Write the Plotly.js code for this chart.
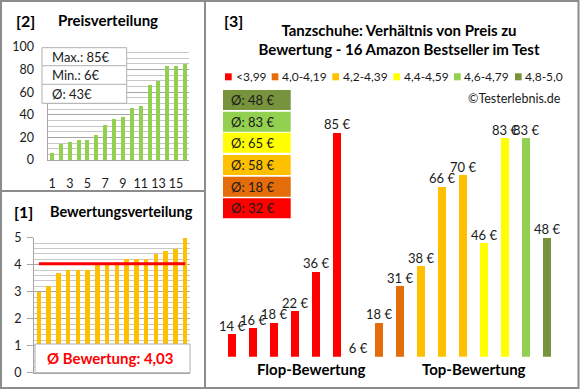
<!DOCTYPE html>
<html><head><meta charset="utf-8">
<script src="https://cdn.plot.ly/plotly-3.0.1.min.js"></script>
<style>html,body{margin:0;padding:0;background:#fff}#chart{width:580px;height:390px}</style>
</head><body><div id="chart"></div>
<script>
// ---------- DATA ----------
// Panel [2] Preisverteilung (prices sorted ascending)
const priceRank = [1,2,3,4,5,6,7,8,9,10,11,12,13,14,15,16];
const pricesSorted = [6,14,16,18,18,22,31,36,38,46,48,66,70,83,83,85];
const priceTickVals = [1,3,5,7,9,11,13,15];
// Panel [1] Bewertungsverteilung (ratings sorted ascending)
const ratingsSorted = [3.0,3.2,3.7,3.8,3.8,3.8,4.0,4.0,4.1,4.2,4.2,4.2,4.4,4.5,4.6,5.0];
// Panel [3] price vs rating
const productPos = [1,2,3,4,5,6,7,8,9,10,11,12,13,14,15,16];
const productPrices = [14,16,18,22,36,85,6,18,31,38,66,70,46,83,83,48];
const productRatings = [3.0,3.2,3.7,3.8,3.8,3.8,4.0,4.0,4.1,4.2,4.2,4.2,4.4,4.5,4.6,5.0];
const groupLabels = ['<3,99','4,0-4,19','4,2-4,39','4,4-4,59','4,6-4,79','4,8-5,0'];
const groupLower = [0,4.0,4.2,4.4,4.6,4.8];
const sectionLabels = ['Flop-Bewertung','Top-Bewertung'];

// ---------- STYLE ----------
const groupColors = ['#FF0000','#E46C0A','#FFC000','#FFFF00','#92D050','#77933C'];
const FONT = 'Lato, "Open Sans", sans-serif';
const BORDER = '#8c8c8c';
const GRID = '#a6a6a6';
const MINOR = '#c8c8c8';
const TXT = '#1a1a1a';
const W = 580, H = 390;
const px = x => x / W;
const py = y => 1 - y / H;

// ---------- DERIVED ----------
const groupOf = r => { let g = 0; groupLower.forEach((l, i) => { if (r >= l - 1e-9) g = i; }); return g; };
const prodGroups = productRatings.map(groupOf);
const prodColors = prodGroups.map(g => groupColors[g]);
const groupAvg = groupLabels.map((_, g) => {
  const v = productPrices.filter((p, i) => prodGroups[i] === g);
  return Math.round(v.reduce((a, b) => a + b, 0) / v.length);
});
const pMax = Math.max(...pricesSorted), pMin = Math.min(...pricesSorted);
const pAvg = Math.round(pricesSorted.reduce((a, b) => a + b, 0) / pricesSorted.length);
const rAvg = ratingsSorted.reduce((a, b) => a + b, 0) / ratingsSorted.length;

// ---------- TRACES ----------
const traces = [
  {type: 'bar', x: priceRank, y: pricesSorted, xaxis: 'x', yaxis: 'y',
   marker: {color: '#92D050'}, width: 0.45, hoverinfo: 'none'},
  {type: 'bar', x: priceRank, y: ratingsSorted, xaxis: 'x2', yaxis: 'y2',
   marker: {color: '#FFC000'}, width: 0.47, hoverinfo: 'none'},
  {type: 'scatter', mode: 'lines', x: [priceRank[0], priceRank[priceRank.length - 1]], y: [rAvg, rAvg],
   xaxis: 'x2', yaxis: 'y2', line: {color: '#FF0000', width: 3}, hoverinfo: 'none'},
  {type: 'bar', x: productPos, y: productPrices, xaxis: 'x3', yaxis: 'y3',
   marker: {color: prodColors}, width: 0.38, hoverinfo: 'none'},
  {type: 'scatter', mode: 'text', x: productPos, y: productPrices, xaxis: 'x3', yaxis: 'y3',
   text: productPrices.map(v => v + ' €'), textposition: 'top center', cliponaxis: false,
   textfont: {family: FONT, size: 13, color: TXT}, hoverinfo: 'none'}
];

// ---------- SHAPES ----------
const shapes = [];
const line = (x0, y0, x1, y1, c, w) => shapes.push({type: 'line', xref: 'paper', yref: 'paper',
  x0: px(x0), y0: py(y0), x1: px(x1), y1: py(y1), line: {color: c, width: w}, layer: 'above'});
const rect = (x0, y0, x1, y1, fill, lc, lw) => shapes.push({type: 'rect', xref: 'paper', yref: 'paper',
  x0: px(x0), y0: py(y0), x1: px(x1), y1: py(y1), fillcolor: fill,
  line: {color: lc || fill, width: lw === undefined ? 0 : lw}, layer: 'above'});
// outer frames
rect(1, 1, 578.5, 388, 'rgba(0,0,0,0)', BORDER, 2);
line(205, 1, 205, 388, BORDER, 2);
line(1, 191, 205, 191, BORDER, 2);
// panel 2 info box
rect(42, 47.7, 126.7, 103.3, '#ffffff', '#b0b0b0', 1);
line(42, 65.7, 126.7, 65.7, '#b0b0b0', 1);
line(42, 84.3, 126.7, 84.3, '#b0b0b0', 1);
// panel 1 info box
rect(35, 344, 190, 372.7, '#ffffff', '#b0b0b0', 1);
// panel 3 legend squares
const legSq = [225, 271.7, 332.3, 393.3, 454, 515];
legSq.forEach((s, i) => rect(s, 73.3, s + 6.7, 80.3, groupColors[i]));
// panel 3 average boxes (top: highest group)
const boxTops = [90, 111.7, 132.7, 155, 176.7, 198.3];
const boxOrder = [5, 4, 3, 2, 1, 0];
boxOrder.forEach((g, k) => rect(223, boxTops[k], 290.7, boxTops[k] + 20, groupColors[g]));

// ---------- ANNOTATIONS ----------
const ann = [];
const txt = (t, x, y, opt) => ann.push(Object.assign({text: t, xref: 'paper', yref: 'paper',
  x: px(x), y: py(y), xanchor: 'center', yanchor: 'middle', showarrow: false, borderpad: 0,
  font: {family: FONT, size: 13, color: TXT}}, opt || {}));
const bold = (s, c) => ({family: FONT, size: s, color: c || '#000', weight: 'bold'});
txt('[2]', 25.5, 20, {font: bold(16)});
txt('Preisverteilung', 108.3, 20, {font: bold(15)});
txt('[1]', 23.3, 211.7, {font: bold(16)});
txt('Bewertungsverteilung', 121.7, 211.7, {font: bold(14.5)});
txt('[3]', 233.3, 20, {font: bold(16)});
txt('Max.: ' + pMax + '€', 51, 57, {xanchor: 'left'});
txt('Min.: ' + pMin + '€', 51, 75.5, {xanchor: 'left'});
txt('Ø: ' + pAvg + '€', 51, 94, {xanchor: 'left'});
txt('Ø Bewertung: ' + rAvg.toFixed(2).replace('.', ','), 110.4, 358.3, {font: bold(15, '#FF0000')});
const legTextX = [235, 281, 341.7, 402.7, 463.3, 524.3];
groupLabels.forEach((l, i) => txt(l.replace('<', '&lt;'), legTextX[i], 77, {xanchor: 'left',
  font: {family: FONT, size: 12, color: TXT}}));
txt('©Testerlebnis.de', 562, 98.3, {xanchor: 'right', font: {family: FONT, size: 12.5, color: TXT}});
boxOrder.forEach((g, k) => txt('Ø: ' + groupAvg[g] + ' €', 252, boxTops[k] + 10));
txt(sectionLabels[0], 311.7, 369, {font: bold(15)});
txt(sectionLabels[1], 474, 369, {font: bold(15)});

// ---------- LAYOUT ----------
const tickFont = {family: FONT, size: 12.5, color: TXT};
const layout = {
  width: W, height: H, margin: {l: 0, r: 0, t: 0, b: 0, pad: 0},
  paper_bgcolor: '#ffffff', plot_bgcolor: 'rgba(0,0,0,0)',
  showlegend: false, bargap: 0,
  title: {text: '<b>Tanzschuhe: Verhältnis von Preis zu<br>Bewertung - 16 Amazon Bestseller im Test</b>',
    font: {family: FONT, size: 15, color: '#000'}, x: px(399), xanchor: 'center',
    xref: 'paper', yref: 'paper', y: py(35.5), yanchor: 'middle'},
  xaxis: {domain: [px(47.6), px(189.4)], range: [0.5, 16.5], anchor: 'y', tickvals: priceTickVals,
    showline: true, linecolor: GRID, linewidth: 1, ticks: '', showgrid: false, zeroline: false,
    tickfont: tickFont, ticklabelstandoff: 12, fixedrange: true},
  yaxis: {domain: [py(160), py(47)], range: [0, 100], anchor: 'x', dtick: 20,
    showline: true, linecolor: GRID, showgrid: true, gridcolor: GRID, zeroline: false,
    minor: {dtick: 5, showgrid: true, gridcolor: MINOR}, ticks: '', tickfont: tickFont,
    ticklabelstandoff: 10, fixedrange: true},
  xaxis2: {domain: [px(34), px(190)], range: [0.5, 16.5], anchor: 'y2', showticklabels: false,
    showline: true, linecolor: GRID, ticks: '', showgrid: false, zeroline: false, fixedrange: true},
  yaxis2: {domain: [py(372.7), py(237.7)], range: [0, 5], anchor: 'x2', dtick: 1,
    showline: true, linecolor: GRID, showgrid: true, gridcolor: GRID, zeroline: false,
    minor: {dtick: 0.2, showgrid: true, gridcolor: MINOR}, ticks: 'outside', ticklen: 6,
    tickcolor: GRID, tickfont: tickFont, ticklabelstandoff: 3, fixedrange: true},
  xaxis3: {domain: [px(221.5), px(557.5)], range: [0.5, 16.5], anchor: 'y3', visible: false, fixedrange: true},
  yaxis3: {domain: [py(356.7), py(104.4)], range: [6, 95], anchor: 'x3', visible: false, fixedrange: true},
  shapes: shapes, annotations: ann
};
Plotly.newPlot('chart', traces, layout, {displayModeBar: false, staticPlot: true});
</script></body></html>
